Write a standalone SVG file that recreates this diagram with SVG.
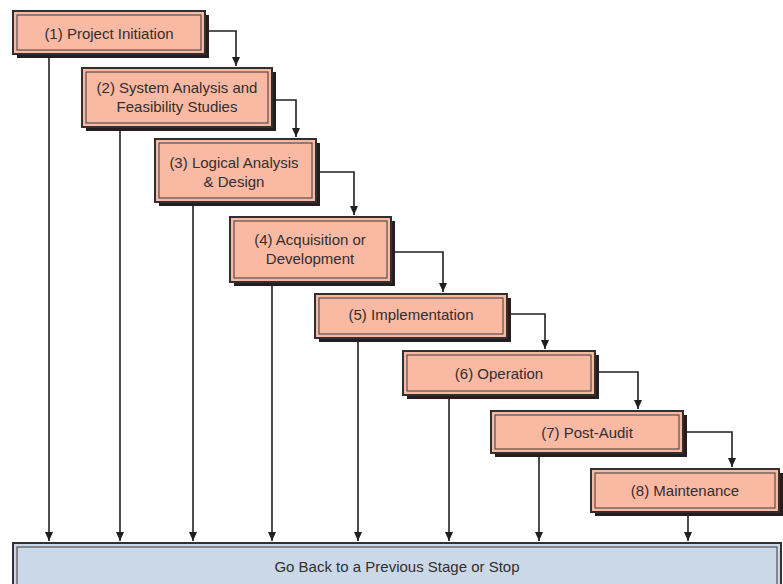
<svg xmlns="http://www.w3.org/2000/svg" width="783" height="584" viewBox="0 0 783 584">
<defs>
<style>
.sh{fill:#231f20}
.bx{fill:#f9b9a3;stroke:#332e2f;stroke-width:2}
.in{fill:none;stroke:#4a4546;stroke-width:1.1}
.bb{fill:#cbd8e7;stroke:#332e2f;stroke-width:2}
.t{font-family:"Liberation Sans",Arial,sans-serif;font-size:15px;fill:#332e2f;text-anchor:middle}
.c{fill:none;stroke:#231f20;stroke-width:1.6}
</style>
<marker id="ah" markerWidth="10" markerHeight="10" refX="9" refY="5" orient="auto" markerUnits="userSpaceOnUse">
<path d="M0,1 L9,5 L0,9 Z" fill="#231f20"/>
</marker>
</defs>
<rect width="783" height="584" fill="#ffffff"/>
<g id="connectors">
<path class="c" d="M205,31 H236 V66" marker-end="url(#ah)"/>
<path class="c" d="M272,100 H296 V137" marker-end="url(#ah)"/>
<path class="c" d="M316,172 H354 V215" marker-end="url(#ah)"/>
<path class="c" d="M391,252 H443 V292" marker-end="url(#ah)"/>
<path class="c" d="M507,314 H545 V349" marker-end="url(#ah)"/>
<path class="c" d="M595,372 H638 V409" marker-end="url(#ah)"/>
<path class="c" d="M683,432 H732 V467" marker-end="url(#ah)"/>
<path class="c" d="M49,58 V541" marker-end="url(#ah)"/>
<path class="c" d="M120,131 V541" marker-end="url(#ah)"/>
<path class="c" d="M193,206 V541" marker-end="url(#ah)"/>
<path class="c" d="M272,286 V541" marker-end="url(#ah)"/>
<path class="c" d="M358,342 V541" marker-end="url(#ah)"/>
<path class="c" d="M449,399 V541" marker-end="url(#ah)"/>
<path class="c" d="M539,457 V541" marker-end="url(#ah)"/>
<path class="c" d="M688,516 V541" marker-end="url(#ah)"/>
</g>
<g id="n1">
<rect class="sh" x="17" y="15" width="192" height="43"/>
<rect class="bx" x="13" y="11" width="192" height="43"/>
<rect class="in" x="17" y="15" width="184" height="35"/>
<text class="t" x="109" y="39">(1) Project Initiation</text>
</g>
<g id="n2">
<rect class="sh" x="86" y="72" width="190" height="59"/>
<rect class="bx" x="82" y="68" width="190" height="59"/>
<rect class="in" x="86" y="72" width="182" height="51"/>
<text class="t" x="177" y="93">(2) System Analysis and</text>
<text class="t" x="177" y="112">Feasibility Studies</text>
</g>
<g id="n3">
<rect class="sh" x="159" y="143" width="161" height="63"/>
<rect class="bx" x="155" y="139" width="161" height="63"/>
<rect class="in" x="159" y="143" width="153" height="55"/>
<text class="t" x="234" y="168">(3) Logical Analysis</text>
<text class="t" x="234" y="187">&amp; Design</text>
</g>
<g id="n4">
<rect class="sh" x="234" y="221" width="161" height="65"/>
<rect class="bx" x="230" y="217" width="161" height="65"/>
<rect class="in" x="234" y="221" width="153" height="57"/>
<text class="t" x="310" y="245">(4) Acquisition or</text>
<text class="t" x="310" y="264">Development</text>
</g>
<g id="n5">
<rect class="sh" x="319" y="298" width="192" height="44"/>
<rect class="bx" x="315" y="294" width="192" height="44"/>
<rect class="in" x="319" y="298" width="184" height="36"/>
<text class="t" x="411" y="320">(5) Implementation</text>
</g>
<g id="n6">
<rect class="sh" x="407" y="355" width="192" height="44"/>
<rect class="bx" x="403" y="351" width="192" height="44"/>
<rect class="in" x="407" y="355" width="184" height="36"/>
<text class="t" x="499" y="379">(6) Operation</text>
</g>
<g id="n7">
<rect class="sh" x="495" y="415" width="192" height="42"/>
<rect class="bx" x="491" y="411" width="192" height="42"/>
<rect class="in" x="495" y="415" width="184" height="34"/>
<text class="t" x="587" y="438">(7) Post-Audit</text>
</g>
<g id="n8">
<rect class="sh" x="595" y="473" width="188" height="43"/>
<rect class="bx" x="591" y="469" width="188" height="43"/>
<rect class="in" x="595" y="473" width="180" height="35"/>
<text class="t" x="685" y="496">(8) Maintenance</text>
</g>
<g id="n9">
<rect class="bb" x="13" y="543" width="768" height="45"/>
<rect class="in" x="17" y="547" width="760" height="45"/>
<text class="t" x="397" y="572">Go Back to a Previous Stage or Stop</text>
</g>
</svg>
